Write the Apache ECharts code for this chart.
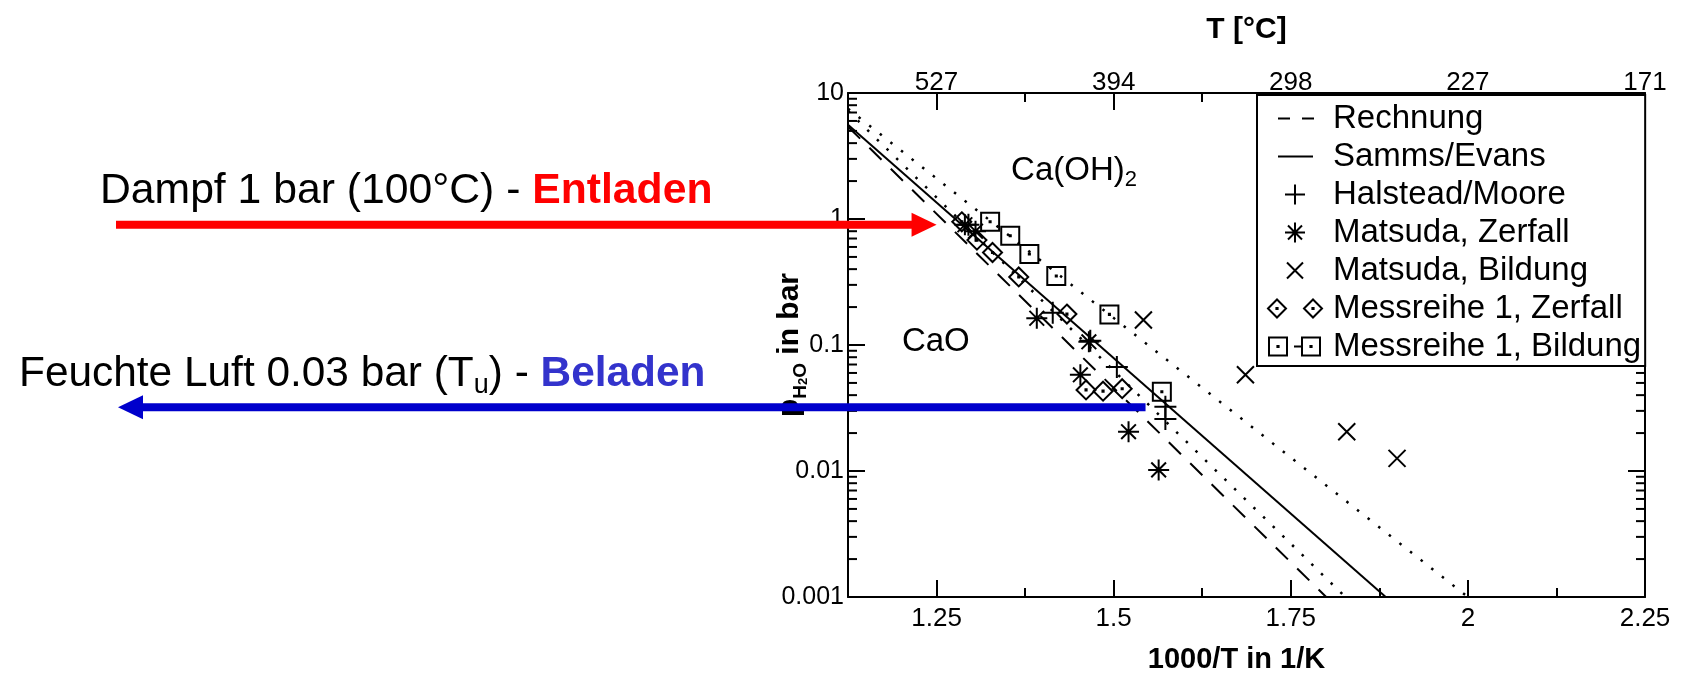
<!DOCTYPE html>
<html>
<head>
<meta charset="utf-8">
<title>Ca(OH)2 / CaO Gleichgewicht</title>
<script src="https://cdn.jsdelivr.net/npm/echarts@6.0.0/dist/echarts.min.js"></script>
<style>
  html, body { margin: 0; padding: 0; background: #fff; }
  #chart { width: 1686px; height: 681px; }
</style>
</head>
<body>
<div id="chart"></div>
<script>
var FONT = '"Liberation Sans", Arial, Helvetica, sans-serif';

// axes
var xRange = [1.125, 2.25];
var yRange = [0.001, 10];
var xTickValues = [1.25, 1.5, 1.75, 2, 2.25];
var xTickLabels = ['1.25', '1.5', '1.75', '2', '2.25'];
var tempLabels = ['527', '394', '298', '227', '171'];   // T in °C at the same 1000/T ticks
var xMajorTicks = [1.25, 1.5, 1.75, 2];
var xMinorTicks = [1.375, 1.625, 1.875, 2.125];
var yTickValues = [0.001, 0.01, 0.1, 1, 10];
var yTickLabels = ['0.001', '0.01', '0.1', '1', '10'];
var yMinorTicks = [
  0.002, 0.003, 0.004, 0.005, 0.006, 0.007, 0.008, 0.009,
  0.02, 0.03, 0.04, 0.05, 0.06, 0.07, 0.08, 0.09,
  0.2, 0.3, 0.4, 0.5, 0.6, 0.7, 0.8, 0.9,
  2, 3, 4, 5, 6, 7, 8, 9
];

// lines [1000/T, p]
var rechnung = [[1.125, 5.4], [1.80, 0.001]];
var sammsEvans = [[1.125, 5.6], [1.884, 0.001]];
var dottedUpper = [[1.125, 7.5], [2.0, 0.001]];
var dottedLower = [[1.125, 7.2], [1.827, 0.001]];

// measured points [1000/T, p]
var halsteadMoore = [[1.295, 0.9], [1.414, 0.18], [1.467, 0.108], [1.5045, 0.067], [1.573, 0.0324], [1.573, 0.0259]];
var matsudaZerfall = [[1.29, 0.9], [1.305, 0.8], [1.3915, 0.163], [1.465, 0.106], [1.453, 0.058], [1.521, 0.0205], [1.5635, 0.0102]];
var matsudaBildung = [[1.542, 0.158], [1.686, 0.058], [1.829, 0.0205], [1.900, 0.0126]];
var messZerfall = [[1.2856, 0.95], [1.307, 0.68], [1.329, 0.542], [1.366, 0.347], [1.434, 0.176], [1.461, 0.044], [1.485, 0.043], [1.512, 0.045]];
var messBildung = [[1.3256, 0.95], [1.354, 0.736], [1.381, 0.527], [1.419, 0.353], [1.494, 0.175], [1.568, 0.0426]];

// region labels and the two pressure arrows
var regionText = ['{a|Ca(OH)}{s|2}', '{a|CaO}'];
var regionAt = [[1.444, 2.4], [1.249, 0.106]];
var arrowPressure = [0.9, 0.032];   // Dampf, Feuchte Luft
var arrowEndX = [1.25, 1.545];

var SYM = {
  plus: 'path://M10 0V20M0 10H20',
  star: 'path://M10 0V20M0 10H20M3 3L17 17M17 3L3 17',
  cross: 'path://M0 0L20 20M20 0L0 20',
  diamond: 'path://M10 0L20 10L10 20L0 10ZM9.4 9.4H10.6V10.6H9.4Z',
  square: 'path://M0 0H20V20H0ZM9.4 9.4H10.6V10.6H9.4Z'
};

// legend icons drawn in a 62x20 box (first two moves fix the box)
var BOX = 'path://M0 0M62 20';
var legendNames = ['Rechnung', 'Samms/Evans', 'Halstead/Moore', 'Matsuda, Zerfall', 'Matsuda, Bildung', 'Messreihe 1, Zerfall', 'Messreihe 1, Bildung'];
var legendIcons = [
  BOX + 'M12 10H24M36 10H48',
  BOX + 'M12 10H47',
  BOX + 'M29 0V20M19 10H39',
  BOX + 'M29 0V20M19 10H39M22 3L36 17M36 3L22 17',
  BOX + 'M21 2L37 18M37 2L21 18',
  BOX + 'M2 10L11 1L20 10L11 19ZM10.4 9.4H11.6V10.6H10.4ZM38 10L47 1L56 10L47 19ZM46.4 9.4H47.6V10.6H46.4Z',
  BOX + 'M3 1H21V19H3ZM11.4 9.4H12.6V10.6H11.4ZM28 10H36M36 1H54V19H36ZM44.4 9.4H45.6V10.6H44.4Z'
];

function labelFor(values, labels, v) {
  for (var i = 0; i < values.length; i++) {
    if (Math.abs(values[i] - v) <= 1e-6 * Math.abs(values[i])) return labels[i];
  }
  return '';
}

var chart = echarts.init(document.getElementById('chart'));
var black = { color: '#000', width: 2 };

function xAxisPart(pos, tickLen, ticks, labels) {
  return {
    type: 'value', position: pos, min: xRange[0], max: xRange[1], interval: 0.125,
    axisLine: { show: !!labels, onZero: false, lineStyle: black },
    axisTick: { show: true, inside: true, length: tickLen, customValues: ticks, lineStyle: black },
    axisLabel: labels ? {
      customValues: xTickValues,
      formatter: function (v) { return labelFor(xTickValues, labels, v); },
      fontFamily: FONT, fontSize: 26, color: '#000',
      margin: pos === 'top' ? -3 : 9
    } : { show: false },
    splitLine: { show: false }
  };
}

var xAxes = [
  xAxisPart('bottom', 9, xMinorTicks, xTickLabels),
  xAxisPart('bottom', 17, xMajorTicks, null),
  xAxisPart('top', 17, xMajorTicks, tempLabels),
  xAxisPart('top', 9, xMinorTicks, null)
];
Object.assign(xAxes[0], {
  name: '1000/T in 1/K', nameLocation: 'middle', nameGap: 48,
  nameTextStyle: { fontFamily: FONT, fontSize: 29, fontWeight: 'bold', color: '#000', padding: [0, 20, 0, 0] }
});
Object.assign(xAxes[2], {
  name: 'T [°C]', nameLocation: 'middle', nameGap: 48,
  nameTextStyle: { fontFamily: FONT, fontSize: 30, fontWeight: 'bold', color: '#000' }
});

function yAxisPart(pos, showLabels) {
  return {
    type: 'log', logBase: 10, position: pos, min: yRange[0], max: yRange[1],
    axisLine: { show: true, onZero: false, lineStyle: black },
    axisTick: { show: true, inside: true, length: 17, lineStyle: black },
    axisLabel: showLabels ? {
      formatter: function (v) { return labelFor(yTickValues, yTickLabels, v); },
      fontFamily: FONT, fontSize: 25, color: '#000', margin: 4
    } : { show: false },
    minorTick: { show: false },
    splitLine: { show: false }
  };
}
var yAxes = [yAxisPart('left', true), yAxisPart('right', false)];
Object.assign(yAxes[0], {
  name: '{p|p}{s|H}{t|2}{s|O}{p| in bar}', nameLocation: 'middle', nameGap: 38, nameMoveOverlap: false,
  nameTextStyle: {
    fontFamily: FONT, fontWeight: 'bold', color: '#000', fontSize: 30,
    rich: {
      p: { fontFamily: FONT, fontWeight: 'bold', fontSize: 30, lineHeight: 40, color: '#000' },
      s: { fontFamily: FONT, fontWeight: 'bold', fontSize: 19, lineHeight: 24, verticalAlign: 'bottom', color: '#000' },
      t: { fontFamily: FONT, fontWeight: 'bold', fontSize: 13, lineHeight: 12, verticalAlign: 'bottom', color: '#000' }
    }
  }
});

function lineSeries(name, data, type) {
  return {
    name: name, type: 'line', data: data, xAxisIndex: 0, yAxisIndex: 0,
    symbol: 'none', silent: true, z: 2,
    lineStyle: { color: '#000', width: type === 'dotted' ? 2.5 : 2, type: type === 'dashed' ? [17, 13] : type === 'dotted' ? [2.5, 11] : 'solid', cap: 'butt' }
  };
}
function markerSeries(name, data, symbol, size) {
  return {
    name: name, type: 'scatter', data: data, xAxisIndex: 0, yAxisIndex: 0,
    symbol: symbol, symbolSize: size, silent: true, z: 3,
    itemStyle: { color: 'rgba(0,0,0,0)', borderColor: '#000', borderWidth: 2, opacity: 1 }
  };
}

var option = {
  animation: false,
  backgroundColor: '#fff',
  grid: { left: 848, right: 41, top: 93, bottom: 84, containLabel: false, outerBoundsMode: 'none' },
  xAxis: xAxes,
  yAxis: yAxes,
  legend: {
    orient: 'vertical', left: 1257, top: 95, z: 20,
    padding: [7, 4, 3, 8],
    itemWidth: 62, itemHeight: 20, itemGap: 5,
    borderColor: '#000', borderWidth: 2, backgroundColor: '#fff',
    selectedMode: false,
    textStyle: { fontFamily: FONT, fontSize: 33, color: '#000' },
    data: legendNames.map(function (n, i) {
      return { name: n, icon: legendIcons[i], itemStyle: { color: 'rgba(0,0,0,0)', borderColor: '#000', borderWidth: 2 } };
    })
  },
  series: [
    lineSeries('Rechnung', rechnung, 'dashed'),
    lineSeries('Samms/Evans', sammsEvans, 'solid'),
    lineSeries('dotted upper', dottedUpper, 'dotted'),
    lineSeries('dotted lower', dottedLower, 'dotted'),
    markerSeries('Halstead/Moore', halsteadMoore, SYM.plus, 22),
    markerSeries('Matsuda, Zerfall', matsudaZerfall, SYM.star, 21),
    markerSeries('Matsuda, Bildung', matsudaBildung, SYM.cross, 17),
    markerSeries('Messreihe 1, Zerfall', messZerfall, SYM.diamond, 19),
    markerSeries('Messreihe 1, Bildung', messBildung, SYM.square, 18),
    {
      // phase labels Ca(OH)2 / CaO
      type: 'custom', xAxisIndex: 0, yAxisIndex: 0, silent: true, z: 4,
      data: regionAt,
      renderItem: function (params, api) {
        var p = api.coord([api.value(0), api.value(1)]);
        return {
          type: 'text', x: p[0], y: p[1],
          style: {
            text: regionText[params.dataIndex], align: 'center', verticalAlign: 'middle', fill: '#000',
            rich: {
              a: { fontFamily: FONT, fontSize: 33, fill: '#000', lineHeight: 40 },
              s: { fontFamily: FONT, fontSize: 22, fill: '#000', lineHeight: 22, verticalAlign: 'bottom' }
            }
          }
        };
      }
    },
    {
      // log minor ticks on left and right frame
      type: 'custom', xAxisIndex: 0, yAxisIndex: 0, silent: true, clip: false, z: 1,
      data: yMinorTicks.map(function (v) { return [xRange[0], v]; }),
      renderItem: function (params, api) {
        var v = api.value(1);
        var pl = api.coord([xRange[0], v]);
        var pr = api.coord([xRange[1], v]);
        return {
          type: 'group',
          children: [
            { type: 'line', shape: { x1: pl[0], y1: pl[1], x2: pl[0] + 9, y2: pl[1] }, style: { stroke: '#000', lineWidth: 2 } },
            { type: 'line', shape: { x1: pr[0] - 9, y1: pr[1], x2: pr[0], y2: pr[1] }, style: { stroke: '#000', lineWidth: 2 } }
          ]
        };
      }
    }
  ]
};

chart.setOption(option);

// arrows and annotations on the left
var yRed = chart.convertToPixel({ yAxisIndex: 0 }, arrowPressure[0]);
var yBlue = chart.convertToPixel({ yAxisIndex: 0 }, arrowPressure[1]);
var xRed = chart.convertToPixel({ xAxisIndex: 0 }, arrowEndX[0]);
var xBlue = chart.convertToPixel({ xAxisIndex: 0 }, arrowEndX[1]);
var RED = '#ff0000', BLUE = '#0000cc';

chart.setOption({
  graphic: [
    { type: 'line', z: 10, shape: { x1: 116, y1: yRed, x2: xRed - 22, y2: yRed }, style: { stroke: RED, lineWidth: 8 } },
    { type: 'polygon', z: 10, shape: { points: [[xRed - 25, yRed - 12], [xRed, yRed], [xRed - 25, yRed + 12]] }, style: { fill: RED } },
    { type: 'line', z: 10, shape: { x1: 140, y1: yBlue, x2: xBlue, y2: yBlue }, style: { stroke: BLUE, lineWidth: 8 } },
    { type: 'polygon', z: 10, shape: { points: [[118, yBlue], [143, yBlue - 12], [143, yBlue + 12]] }, style: { fill: BLUE } },
    {
      type: 'text', z: 10, x: 100, y: 191,
      style: {
        text: '{n|Dampf 1 bar (100°C) - }{r|Entladen}', verticalAlign: 'middle',
        rich: {
          n: { fontFamily: FONT, fontSize: 42.7, fill: '#000', lineHeight: 50 },
          r: { fontFamily: FONT, fontSize: 42.7, fontWeight: 'bold', fill: RED, lineHeight: 50 }
        }
      }
    },
    {
      type: 'text', z: 10, x: 19, y: 374,
      style: {
        text: '{n|Feuchte Luft 0.03 bar (T}{u|u}{n|) - }{b|Beladen}', verticalAlign: 'middle',
        rich: {
          n: { fontFamily: FONT, fontSize: 42.4, fill: '#000', lineHeight: 50 },
          u: { fontFamily: FONT, fontSize: 27, fill: '#000', lineHeight: 22, verticalAlign: 'bottom' },
          b: { fontFamily: FONT, fontSize: 42.4, fontWeight: 'bold', fill: '#3333cc', lineHeight: 50 }
        }
      }
    }
  ]
});
</script>
</body>
</html>
